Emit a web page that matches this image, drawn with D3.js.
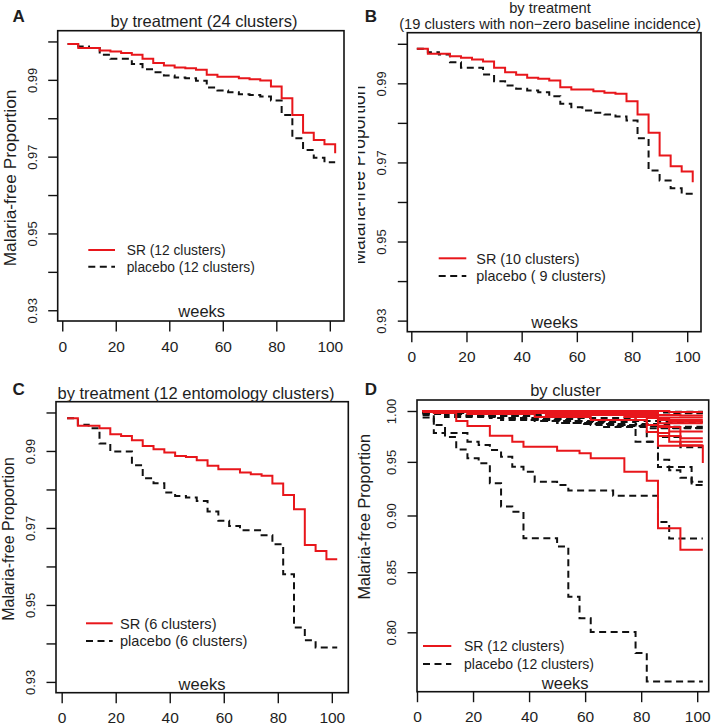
<!DOCTYPE html>
<html><head><meta charset="utf-8">
<script src="https://cdn.jsdelivr.net/npm/d3@7"></script>
<style>
body{margin:0;background:#fff}
svg{display:block}
text{font-family:"Liberation Sans",Arial,sans-serif;fill:#1e1e1e}
</style>
</head><body>
<svg id="chart" width="717" height="726"></svg>
<script>
// ---------------- data ----------------
const weeks = [2,6,10,14,18,22,26,30,34,38,42,46,50,54,58,62,66,70,74,78,82,86,90,94,98,102];
const xTickValues = [0,20,40,60,80,100];
const yTicksTreatment = [0.93,0.94,0.95,0.96,0.97,0.98,0.99,1.00];
const yLabelsTreatment = ["0.93","0.95","0.97","0.99"];
const yTicksCluster = [0.80,0.85,0.90,0.95,1.00];
const yLabelsCluster = ["0.80","0.85","0.90","0.95","1.00"];

// A: by treatment (24 clusters)
const A_SR      = [.99932,.99828,.99828,.99765,.99739,.99697,.99653,.99548,.99436,.99373,.99321,.99305,.99261,.99131,.99078,.99078,.99044,.99018,.98982,.98825,.98522,.98086,.97624,.97433,.97321,.97086];
const A_placebo = [.99932,.99869,.99828,.99653,.99548,.99548,.99410,.99279,.99201,.99112,.99060,.99044,.98974,.98799,.98721,.98679,.98627,.98608,.98564,.98460,.98086,.97478,.97172,.96971,.96851,.96851];
// B: 19 clusters with non-zero baseline incidence
const B_SR      = [.99874,.99747,.99747,.99686,.99646,.99603,.99552,.99393,.99282,.99216,.99140,.99115,.99072,.98902,.98844,.98844,.98801,.98760,.98735,.98548,.98211,.97749,.97174,.96904,.96770,.96499];
const B_placebo = [.99874,.99788,.99729,.99535,.99393,.99393,.99223,.99054,.98945,.98862,.98819,.98776,.98674,.98482,.98396,.98313,.98254,.98211,.98161,.98059,.97612,.96795,.96542,.96347,.96205,.96205];
// C: 12 entomology clusters
const C_SR      = [.99852,.99652,.99652,.99592,.99436,.99392,.99280,.99132,.99047,.98961,.98872,.98846,.98761,.98613,.98527,.98527,.98441,.98397,.98353,.98155,.97859,.97488,.96560,.96404,.96189,.96189];
const C_placebo = [.99852,.99678,.99592,.99195,.98987,.98987,.98631,.98293,.98163,.97922,.97833,.97792,.97703,.97428,.97184,.97054,.96942,.96942,.96812,.96578,.95799,.94414,.94080,.93894,.93894,.93894];

// D: by cluster — [week, proportion] at each step
const D_SR = [
  [[2,1],[6,.998],[14,.990],[18,.985],[26,.9754],[34,.9695],[38,.9647],[50,.9608],[58,.9582],[62,.9534],[74,.9406],[82,.9321],[86,.8885],[94,.8694]],
  [[2,1],[26,.999],[50,.997],[78,.991],[82,.979],[86,.9655],[102,.949]],
  [[2,1],[30,.998],[58,.996],[82,.993],[86,.978],[90,.9695]],
  [[2,1],[38,.998],[70,.996],[86,.984],[94,.973]],
  [[2,.999],[18,.997],[42,.994],[62,.991],[82,.986],[86,.975],[94,.966]],
  [[2,1],[50,.998],[86,.9877]],
  [[2,1],[14,.999],[86,.993],[90,.9893]],
  [[2,1],[82,.997],[86,.991]],
  [[2,1],[70,.999],[86,.9935]],
  [[2,1],[90,.999]],
  [[2,1],[22,.998],[46,.996],[74,.994],[86,.985],[90,.9795]],
  [[2,1],[62,.999],[86,.996],[94,.9955]]
];
const D_placebo = [
  [[2,.9935],[6,.978],[10,.974],[14,.962],[18,.9534],[22,.9487],[26,.9297],[30,.9081],[34,.9035],[38,.8796],[50,.8722],[54,.8293],[58,.8115],[62,.8003],[78,.7834],[82,.7613]],
  [[2,.996],[6,.986],[10,.978],[18,.9695],[22,.9663],[26,.9614],[30,.955],[34,.9454],[38,.9406],[42,.9312],[50,.928],[54,.923],[70,.918],[86,.894],[90,.8793]],
  [[2,.999],[14,.997],[30,.993],[50,.988],[66,.984],[78,.9695],[86,.945],[98,.9312]],
  [[2,.998],[22,.995],[46,.990],[70,.985],[82,.9695],[86,.952],[90,.942],[94,.935],[98,.9281]],
  [[2,.999],[10,.996],[26,.993],[42,.990],[58,.987],[74,.985],[86,.974],[94,.964]],
  [[2,.998],[18,.995],[38,.991],[54,.988],[70,.986],[90,.9843]],
  [[2,.997],[10,.994],[30,.991],[50,.988],[62,.986],[78,.984],[82,.9827]],
  [[2,1],[86,.9993]],
  [[2,1],[62,.9992],[90,.9977]],
  [[2,.9995],[42,.999],[86,.9985]],
  [[2,.999],[26,.996],[54,.993],[78,.990],[86,.989]],
  [[2,.998],[14,.995],[34,.992],[58,.989],[78,.987],[86,.983]]
];

const seriesColors = {SR:"#e8161b", placebo:"#111111"};
const dashPattern = "7,4.5";

// ---------------- layout ----------------
const panels = [
  {letter:"A", box:[57.7,30.7,344,321], xdom:[-1.7,105.3], ydom:[0.9272,1.0028], log:false,
   yt:yTicksTreatment, yl:yLabelsTreatment,
   title:["by treatment (24 clusters)"], titleX:204, titleY:[26.5], titleSize:16.5,
   letterXY:[12.5,21.7], ylab:[15.5,178,17.3], weeksXY:[201.7,317],
   legend:{x0:88.3,x1:115,tx:126.7,y:[250,266.7],size:13.8,labels:["SR (12 clusters)","placebo (12 clusters)"]},
   SR:[A_SR], placebo:[A_placebo], perWeek:true},
  {letter:"B", box:[407.3,32.7,701,331.7], xdom:[-1.45,105], ydom:[0.9272,1.0028], log:false,
   yt:yTicksTreatment, yl:yLabelsTreatment, clipLeft:358,
   title:["by treatment","(19 clusters with non\u2212zero baseline incidence)"], titleX:550, titleY:[12.5,28.5], titleSize:14.7,
   letterXY:[364.7,21.7], ylab:[365,175,17.5], weeksXY:[554.7,328],
   legend:{x0:438.7,x1:466.3,tx:476.3,y:[258.3,276],size:14.4,labels:["SR (10 clusters)","placebo ( 9 clusters)"]},
   SR:[B_SR], placebo:[B_placebo], perWeek:true},
  {letter:"C", box:[56,401.7,348.3,692.7], xdom:[-2.1,106.1], ydom:[0.9272,1.0028], log:false,
   yt:yTicksTreatment, yl:yLabelsTreatment,
   title:["by treatment (12 entomology clusters)"], titleX:196, titleY:[398.5], titleSize:16.5,
   letterXY:[12.5,395], ylab:[14,539,16], weeksXY:[202,690],
   legend:{x0:86,x1:112.7,tx:120,y:[623.3,641],size:14.6,labels:["SR (6 clusters)","placebo (6 clusters)"]},
   SR:[C_SR], placebo:[C_placebo], perWeek:true},
  {letter:"D", box:[417,400,708.7,691.7], xdom:[0,104.1], ydom:[0.75349,1.01115], log:true,
   yt:yTicksCluster, yl:yLabelsCluster,
   title:["by cluster"], titleX:565.5, titleY:[395.5], titleSize:16.5,
   letterXY:[364.7,395], ylab:[370,516.7,16.2], weeksXY:[565.2,689],
   legend:{x0:423,x1:451.3,tx:464,y:[646,664],size:14,labels:["SR (12 clusters)","placebo (12 clusters)"]},
   SR:D_SR, placebo:D_placebo, perWeek:false}
];

const svg = d3.select("#chart");
const defs = svg.append("defs");

panels.forEach((p, pi) => {
  const [x0,y0,x1,y1] = p.box;
  let g = svg.append("g");
  if (p.clipLeft !== undefined) {
    defs.append("clipPath").attr("id","clip"+pi).append("rect")
      .attr("x",p.clipLeft).attr("y",0).attr("width",717-p.clipLeft).attr("height",726);
    g.attr("clip-path","url(#clip"+pi+")");
  }
  const x = d3.scaleLinear().domain(p.xdom).range([x0,x1]);
  const y = (p.log ? d3.scaleLog() : d3.scaleLinear()).domain(p.ydom).range([y1,y0]);

  // curves
  const line = d3.line().x(d=>x(d[0])).y(d=>y(d[1])).curve(d3.curveStepAfter);
  const toPts = (s) => {
    if (p.perWeek) return weeks.map((w,i)=>[w,s[i]]);
    const pts = s.map(d=>[d[0],d[1]]);
    const last = pts[pts.length-1];
    if (last[0] < 102) pts.push([102,last[1]]);
    return pts;
  };
  const curves = g.append("g").attr("fill","none").attr("stroke-linejoin","miter");
  curves.selectAll("path.pl").data(p.placebo).join("path").attr("class","pl")
    .attr("d", s=>line(toPts(s))).attr("stroke",seriesColors.placebo)
    .attr("stroke-width",2).attr("stroke-dasharray",dashPattern);
  curves.selectAll("path.sr").data(p.SR).join("path").attr("class","sr")
    .attr("d", s=>line(toPts(s))).attr("stroke",seriesColors.SR).attr("stroke-width",2);

  // box
  g.append("rect").attr("x",x0).attr("y",y0).attr("width",x1-x0).attr("height",y1-y0)
    .attr("fill","none").attr("stroke","#111").attr("stroke-width",1.6);

  // x axis
  const xa = g.append("g").attr("transform",`translate(0,${y1})`)
    .call(d3.axisBottom(x).tickValues(xTickValues).tickSize(10.5).tickPadding(9).tickSizeOuter(0));
  xa.select(".domain").remove();
  xa.selectAll("line").attr("stroke","#111").attr("stroke-width",1.4);
  xa.selectAll("text").attr("font-size",15.5).attr("fill","#1e1e1e").attr("font-family","Liberation Sans, Arial, sans-serif");

  // y axis
  const fmt = d3.format(".2f");
  const ya = g.append("g").attr("transform",`translate(${x0},0)`)
    .call(d3.axisLeft(y).tickValues(p.yt).tickSize(9.5).tickSizeOuter(0)
      .tickFormat(d => p.yl.includes(fmt(d)) ? fmt(d) : ""));
  ya.select(".domain").remove();
  ya.selectAll("line").attr("stroke","#111").attr("stroke-width",1.4);
  ya.selectAll("text").attr("font-size",13).attr("fill","#1e1e1e")
    .attr("font-family","Liberation Sans, Arial, sans-serif")
    .attr("transform","rotate(-90)").attr("x",0).attr("y",-21).attr("dy",null)
    .attr("text-anchor","middle");

  // title
  p.title.forEach((t,i)=>{
    g.append("text").attr("x",p.titleX).attr("y",p.titleY[i]).attr("text-anchor","middle")
      .attr("font-size",p.titleSize).text(t);
  });
  // panel letter
  svg.append("text").attr("x",p.letterXY[0]).attr("y",p.letterXY[1]).attr("font-size",17)
    .attr("font-weight","bold").attr("fill","#000").text(p.letter);
  // y label
  g.append("text").attr("transform",`translate(${p.ylab[0]},${p.ylab[1]}) rotate(-90)`)
    .attr("text-anchor","middle").attr("font-size",p.ylab[2]).text("Malaria-free Proportion");
  // weeks
  g.append("text").attr("x",p.weeksXY[0]).attr("y",p.weeksXY[1]).attr("text-anchor","middle")
    .attr("font-size",16.5).text("weeks");
  // legend
  const L = p.legend;
  g.append("line").attr("x1",L.x0).attr("x2",L.x1).attr("y1",L.y[0]).attr("y2",L.y[0])
    .attr("stroke",seriesColors.SR).attr("stroke-width",2);
  g.append("line").attr("x1",L.x0).attr("x2",L.x1).attr("y1",L.y[1]).attr("y2",L.y[1])
    .attr("stroke",seriesColors.placebo).attr("stroke-width",2).attr("stroke-dasharray",dashPattern);
  L.labels.forEach((t,i)=>{
    g.append("text").attr("x",L.tx).attr("y",L.y[i]+5.2).attr("font-size",L.size).text(t);
  });
});
</script>
</body></html>
